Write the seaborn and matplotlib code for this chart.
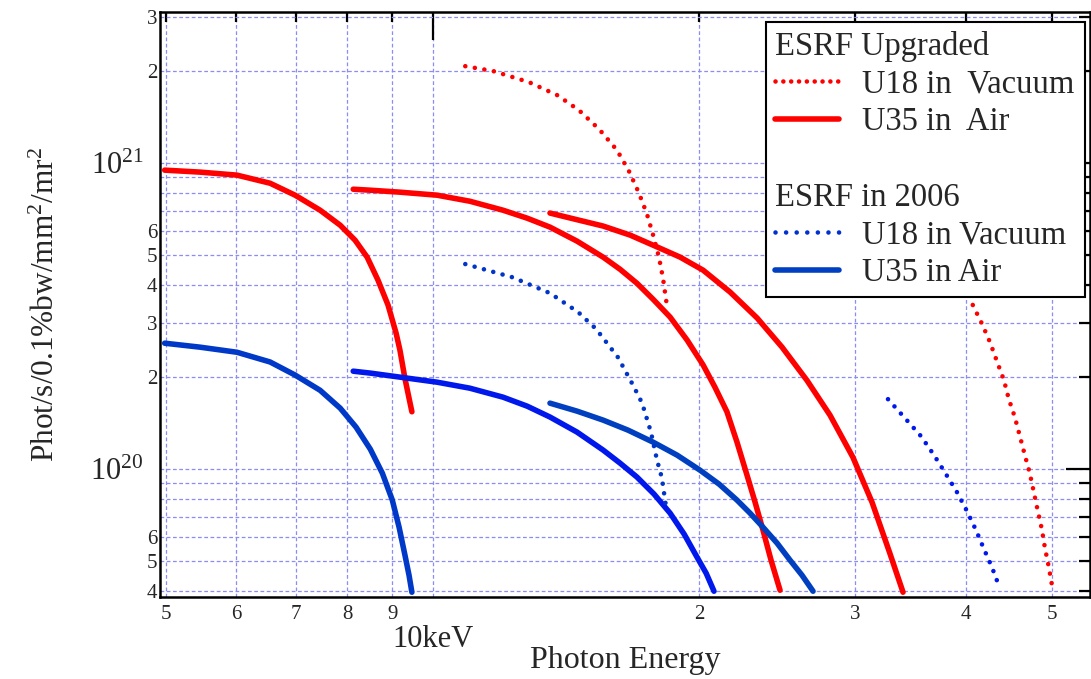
import numpy as np
import pandas as pd
import matplotlib.pyplot as plt
from matplotlib.lines import Line2D
import seaborn as sns

# photon energy in keV, brilliance in units of 1e20 phot/s/0.1%bw/mm2/mr2
# ESRF upgraded
e_up_u35_1 = [4.98, 5.46, 6.01, 6.55, 6.99, 7.46, 7.86, 8.17, 8.43, 8.67, 8.90, 9.09, 9.18, 9.30, 9.40, 9.47]
b_up_u35_1 = [9.49, 9.35, 9.14, 8.60, 7.86, 7.02, 6.27, 5.60, 4.93, 4.15, 3.44, 2.78, 2.45, 1.98, 1.706, 1.54]
e_up_u35_3 = [8.13, 8.50, 9.18, 10.11, 11.01, 12.0, 12.78, 13.56, 14.55, 15.57, 16.27, 17.0,
              17.73, 18.53, 19.37, 20.19, 20.82, 21.48, 22.05, 22.63, 23.11, 23.59, 24.09, 24.66]
b_up_u35_3 = [8.22, 8.16, 8.04, 7.86, 7.51, 7.02, 6.61, 6.18, 5.56, 4.93, 4.50, 4.05,
              3.59, 3.14, 2.64, 2.19, 1.853, 1.54, 1.225, 0.956, 0.780, 0.632, 0.504, 0.402]
e_up_u35_5 = [13.56, 14.47, 15.57, 16.70, 17.82, 19.02, 20.19, 21.66, 23.23, 24.79, 26.45,
              28.08, 29.8, 31.32, 32.8, 33.95]
b_up_u35_5 = [6.87, 6.56, 6.23, 5.82, 5.36, 4.93, 4.47, 3.79, 3.12, 2.504, 1.95,
              1.501, 1.094, 0.780, 0.532, 0.396]
e_up_u18_1 = [10.88, 11.70, 12.84, 13.82, 14.62, 15.41, 16.14, 16.65, 17.09, 17.45, 17.73, 18.0, 18.19, 18.38]
b_up_u18_1 = [20.75, 20.0, 18.40, 16.68, 14.90, 12.91, 11.03, 9.42, 7.98, 6.81, 5.82, 4.93, 4.21, 3.41]
e_up_u18_3 = [40.7, 41.7, 42.56, 43.34, 44.14, 44.7, 45.4, 46.0, 46.6, 47.2, 47.7, 48.2, 48.7, 49.1, 49.6, 50.0]
b_up_u18_3 = [3.44, 2.98, 2.60, 2.25, 1.95, 1.693, 1.479, 1.282, 1.111, 0.970, 0.841, 0.729, 0.637, 0.552, 0.478, 0.418]

# ESRF in 2006
e_06_u35_1 = [4.98, 5.46, 6.01, 6.55, 6.99, 7.46, 7.86, 8.19, 8.50, 8.77, 9.00, 9.16, 9.30, 9.40, 9.47]
b_06_u35_1 = [2.58, 2.504, 2.41, 2.24, 2.03, 1.81, 1.582, 1.372, 1.162, 0.970, 0.792, 0.646, 0.524, 0.450, 0.396]
e_06_u35_3 = [8.13, 8.50, 10.11, 11.01, 12.0, 12.78, 13.56, 14.55, 15.57, 16.27, 17.0, 17.77,
              18.53, 19.22, 19.87, 20.35, 20.77]
b_06_u35_3 = [2.09, 2.06, 1.924, 1.839, 1.719, 1.606, 1.48, 1.321, 1.154, 1.046, 0.942, 0.829,
              0.718, 0.613, 0.516, 0.457, 0.399]
e_06_u35_5 = [13.56, 14.55, 15.57, 16.61, 17.73, 18.87, 20.03, 21.05, 22.05, 22.81, 23.59,
              24.47, 25.31, 26.11, 26.87]
b_06_u35_5 = [1.643, 1.547, 1.446, 1.341, 1.225, 1.111, 0.992, 0.893, 0.792, 0.718, 0.646,
              0.573, 0.504, 0.450, 0.399]
e_06_u18_1 = [10.88, 12.29, 13.56, 14.59, 15.29, 16.18, 16.83, 17.23, 17.63, 17.91, 18.14, 18.33]
b_06_u18_1 = [4.68, 4.24, 3.76, 3.26, 2.87, 2.32, 1.88, 1.643, 1.321, 1.070, 0.935, 0.757]
e_06_u18_3 = [32.65, 34.12, 35.57, 36.8, 37.96, 39.06, 40.09, 41.04, 41.9, 42.78, 43.57]
b_06_u18_3 = [1.693, 1.468, 1.282, 1.111, 0.963, 0.841, 0.729, 0.632, 0.548, 0.478, 0.415]

x_minor = [5, 6, 7, 8, 9, 20, 30, 40, 50]
x_minor_labels = ['5', '6', '7', '8', '9', '2', '3', '4', '5']
y_minor = [4e19, 5e19, 6e19, 7e19, 8e19, 9e19,
           2e20, 3e20, 4e20, 5e20, 6e20, 7e20, 8e20, 9e20, 2e21, 3e21]
y_minor_labels = ['4', '5', '6', '', '', '',
                  '2', '3', '4', '5', '6', '', '', '', '2', '3']

sns.set_style("white")
plt.rcParams['font.family'] = ['Liberation Serif', 'DejaVu Serif']
plt.rcParams['mathtext.fontset'] = 'custom'
plt.rcParams['mathtext.rm'] = 'Liberation Serif'
plt.rcParams['mathtext.it'] = 'Liberation Serif:italic'

RED = '#ff0000'
DOT = (0, (0.01, 2.1))

fig = plt.figure(figsize=(10.91, 6.79), dpi=100)
ax = fig.add_axes([160/1091, 1 - 597/679, 930/1091, 585/679])

curves = [
    (e_up_u35_1, b_up_u35_1, RED, '-'),
    (e_up_u35_3, b_up_u35_3, RED, '-'),
    (e_up_u35_5, b_up_u35_5, RED, '-'),
    (e_06_u35_1, b_06_u35_1, '#0038c8', '-'),
    (e_06_u35_3, b_06_u35_3, '#0018ec', '-'),
    (e_06_u35_5, b_06_u35_5, '#0040c0', '-'),
    (e_up_u18_1, b_up_u18_1, RED, DOT),
    (e_up_u18_3, b_up_u18_3, RED, DOT),
    (e_06_u18_1, b_06_u18_1, '#0035c8', DOT),
    (e_06_u18_3, b_06_u18_3, '#0018ec', DOT),
]
for e, b, c, ls in curves:
    if ls == '-':
        sns.lineplot(x=e, y=np.array(b) * 1e20, ax=ax, color=c, lw=4, sort=False,
                     estimator=None, solid_capstyle='round', solid_joinstyle='round')
    else:
        sns.lineplot(x=e, y=np.array(b) * 1e20, ax=ax, color=c, lw=3.3,
                     ls=ls, sort=False, estimator=None, dash_capstyle='round')

ax.set_xscale('log')
ax.set_yscale('log')
ax.set_xlim(4.92, 55.2)
ax.set_ylim(3.82e19, 3.12e21)

ax.set_xticks([10], labels=['10keV'])
ax.set_xticks(x_minor, labels=x_minor_labels, minor=True)
ax.set_yticks([1e20, 1e21], labels=[r'$10^{20}$', r'$10^{21}$'])
ax.set_yticks(y_minor, labels=y_minor_labels, minor=True)

ax.set_axisbelow(True)
ax.grid(True, which='both', color='#8c8cf5', ls=(0, (3, 2)), lw=0.9)

ax.tick_params(which='both', direction='in', top=True, right=True,
               color='black', width=1.6)
ax.tick_params(axis='x', which='major', length=20, labelsize=22, pad=20)
ax.tick_params(axis='x', which='minor', length=7, labelsize=15, pad=6)
ax.tick_params(axis='y', which='major', length=17, labelsize=22, pad=12)
ax.tick_params(axis='y', which='minor', length=8, labelsize=15, pad=2)

for s in ax.spines.values():
    s.set_color('black')
    s.set_linewidth(1.8)

ax.set_xlabel('Photon Energy', fontsize=23)
ax.xaxis.set_label_coords(0.5, -0.083)
ax.set_ylabel('Phot/s/0.1%bw/mm$^2$/mr$^2$', fontsize=22.5)
ax.yaxis.set_label_coords(-0.106, 0.5)

# legend with two group headings
none = Line2D([], [], color='none')
handles = [
    none,
    Line2D([], [], color=RED, lw=3.3, ls=(0, (0.01, 1.7)), dash_capstyle='round'),
    Line2D([], [], color=RED, lw=4),
    none,
    none,
    Line2D([], [], color='#0030d0', lw=3.3, ls=(0, (0.01, 2.3)), dash_capstyle='round'),
    Line2D([], [], color='#0040c0', lw=4),
]
labels = ['ESRF Upgraded', 'U18 in  Vacuum', 'U35 in  Air', ' ',
          'ESRF in 2006', 'U18 in Vacuum', 'U35 in Air']
fs = 23.5
hl, htp = 1.96, 0.7
leg = ax.legend(handles, labels, loc='upper right', bbox_to_anchor=(0.9946, 0.983),
                borderaxespad=0, fontsize=fs, handlelength=hl, handletextpad=htp,
                labelspacing=0.22, borderpad=0.28, fancybox=False, framealpha=1,
                edgecolor='black')
leg.get_frame().set_linewidth(1.5)
shift = (hl + htp) * fs * fig.dpi / 72
for i in (0, 4):
    leg.get_texts()[i].set_x(-shift)

fig.savefig('out.png', dpi=100)
